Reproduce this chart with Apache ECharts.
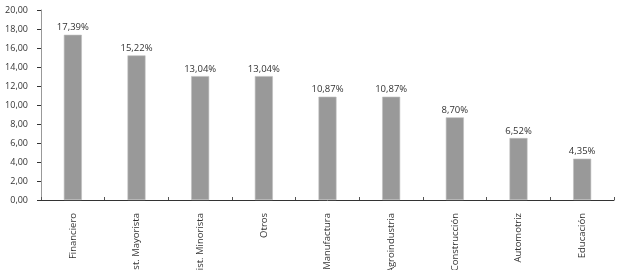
<!DOCTYPE html>
<html><head><meta charset="utf-8">
<script src="https://cdn.jsdelivr.net/npm/echarts@6/dist/echarts.min.js"></script>
<style>html,body{margin:0;padding:0;background:#fff}#c{width:619px;height:270px}</style>
</head><body><div id="c"></div>
<script>
const categories = ["Financiero","Dist. Mayorista","Dist. Minorista","Otros","Manufactura","Agroindustria","Construcción","Automotriz","Educación"];
const values = [17.39,15.22,13.04,13.04,10.87,10.87,8.70,6.52,4.35];
const fmt = v => v.toFixed(2).replace('.', ',');
const FF = '"Open Sans", sans-serif';
const chart = echarts.init(document.getElementById('c'));
chart.setOption({
  animation:false,
  grid:{left:41,right:5,top:10,bottom:70,containLabel:false,outerBoundsMode:'none'},
  xAxis:{type:'category',data:categories,
    axisLine:{lineStyle:{color:'#333',width:1}},
    axisTick:{show:true,inside:true,length:3,alignWithLabel:false,lineStyle:{color:'#555'}},
    axisLabel:{rotate:90,interval:0,color:'#333',fontFamily:FF,fontSize:9.5,margin:13}},
  yAxis:{type:'value',min:0,max:20,interval:2,
    axisLine:{show:true,lineStyle:{color:'#999',width:1}},
    axisTick:{show:true,length:4,lineStyle:{color:'#333'}},
    splitLine:{show:false},
    axisLabel:{color:'#333',fontFamily:FF,fontSize:9,margin:13,formatter:v=>fmt(v)}},
  series:[{type:'bar',data:values,barWidth:18,
    itemStyle:{color:'#999999',borderColor:'#bdbdbd',borderWidth:0.6},
    label:{show:true,position:'top',distance:2,color:'#333',fontFamily:FF,fontSize:9.5,formatter:p=>fmt(p.value)+'%'}}]
});
</script></body></html>
